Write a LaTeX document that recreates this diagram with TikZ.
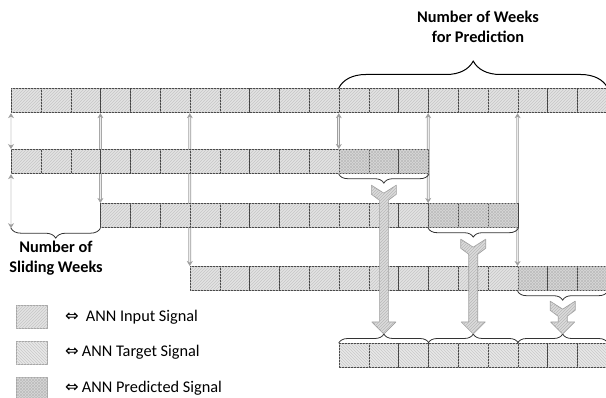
\documentclass[tikz,border=0pt]{standalone}
\usepackage{fontspec}
\setmainfont{Carlito}
\newfontfamily\symfont{DejaVu Sans}
\usetikzlibrary{arrows.meta,patterns,decorations.pathreplacing,calc,backgrounds}

\tikzset{
  week/.style={draw=black!75, line width=0.7pt, minimum width=29.8pt, minimum height=24.5pt, inner sep=0pt, anchor=north west},
  inwk/.style={week, fill=gray!22, postaction={pattern=north east lines, pattern color=gray!45}},
  tgwk/.style={week, fill=gray!18, postaction={pattern=north west lines, pattern color=gray!42}},
  prwk/.style={week, fill=gray!30, postaction={pattern=north east lines, pattern color=gray!52}, postaction={pattern=north west lines, pattern color=gray!52}},
  slide/.style={draw=gray!75, line width=0.7pt, double=gray!15, double distance=1.3pt, {Stealth[length=5pt,width=6pt]}-{Stealth[length=5pt,width=6pt]}},
  curly/.style={decorate, decoration={brace, amplitude=#1}, draw=black!80, line width=0.8pt},
  fat/.style={draw=gray!75, line width=0.7pt, fill=gray!28, postaction={pattern=north east lines, pattern color=gray!55}},
  lbl/.style={font=\bfseries\fontsize{16.3}{19.5}\selectfont, align=center, inner sep=0pt},
  leg/.style={font=\fontsize{16.3}{19}\selectfont, anchor=west, inner sep=0pt}
}

\newcommand{\fatarrow}[2]{%
  \draw[fat] ([shift={(-12.5,1)}]#1) -- ([shift={(0,9)}]#1) -- ([shift={(12.5,1)}]#1)
    -- ([shift={(12.5,10)}]#1) -- ([shift={(4.5,16)}]#1) -- ([shift={(4.5,-12)}]#2)
    -- ([shift={(12,-12)}]#2) -- (#2) -- ([shift={(-12,-12)}]#2) -- ([shift={(-4.5,-12)}]#2)
    -- ([shift={(-4.5,16)}]#1) -- ([shift={(-12.5,10)}]#1) -- cycle;}

\begin{document}
\begin{tikzpicture}[line cap=round,line join=round,x=1pt,y=-1pt]
		\useasboundingbox (0,0) rectangle (606,398);
		%ligne 1
		\foreach \i in {1,...,20}
			\node[inwk] (r1-\i) at ({11+(\i-1)*29.8},88) {};
		%lignes 2 a 4
		\foreach \i in {1,...,11} {
			\node[inwk] (r2-\i) at ({11+(\i-1)*29.8},149) {};
			\node[inwk] (r3-\i) at ({100.4+(\i-1)*29.8},203) {};
			\node[inwk] (r4-\i) at ({189.8+(\i-1)*29.8},266) {};
		}
		\foreach \i in {12,13,14} {
			\node[prwk] (r2-\i) at ({11+(\i-1)*29.8},149) {};
			\node[prwk] (r3-\i) at ({100.4+(\i-1)*29.8},203) {};
			\node[prwk] (r4-\i) at ({189.8+(\i-1)*29.8},266) {};
		}
		%ligne 5
		\foreach \i in {1,...,9}
			\node[tgwk] (r5-\i) at ({338.8+(\i-1)*29.8},343) {};
		%fleches de glissement
		\begin{scope}[on background layer]
		\draw[slide] (r1-1.south west) -- (r2-1.north west);
		\draw[slide] (r2-1.south west) -- (r2-1.south west |- r3-1.south);
		\draw[slide] (r1-4.south west) -- (r3-1.north west);
		\draw[slide] (r1-7.south west) -- (r4-1.north west);
		\draw[slide] (r1-12.south west) -- (r2-12.north west);
		\draw[slide] (r1-15.south west) -- (r3-12.north west);
		\draw[slide] (r1-18.south west) -- (r4-12.north west);
		\end{scope}
		%accolades
		\draw[curly=27pt, draw=black, line width=1pt] (r1-12.north west) -- (r1-20.north east);
		\draw[curly=10pt] (r3-1.south west) -- (r2-1.south west |- r3-1.south);
		\draw[curly=9pt] (r2-14.south east) -- (r2-12.south west);
		\draw[curly=9pt] (r3-14.south east) -- (r3-12.south west);
		\draw[curly=9pt] (r4-14.south east) -- (r4-12.south west);
		\draw[curly=9pt] (r5-1.north west) -- (r5-3.north east);
		\draw[curly=9pt] (r5-4.north west) -- (r5-6.north east);
		\draw[curly=9pt] (r5-7.north west) -- (r5-9.north east);
		%pointes des accolades
		\coordinate (b2) at ($(r2-13.south)+(0,10)$);
		\coordinate (b3) at ($(r3-13.south)+(0,10)$);
		\coordinate (b4) at ($(r4-13.south)+(0,9)$);
		\coordinate (t1) at ($(r5-2.north)+(0,-9)$);
		\coordinate (t2) at ($(r5-5.north)+(0,-9)$);
		\coordinate (t3) at ($(r5-8.north)+(0,-9)$);
		%grosses fleches
		\fatarrow{b2}{t1}
		\fatarrow{b3}{t2}
		\fatarrow{b4}{t3}
		%textes
		\node[lbl] (wkpred) at (478,27) {Number of Weeks\\for Prediction};
		\node[lbl] (wkslide) at (56,258) {Number of\\Sliding Weeks};
		%legende
		\node[inwk, draw=gray!70, minimum width=31pt, minimum height=23pt] (lg-in) at (16,305) {};
		\node[tgwk, draw=gray!70, minimum width=31pt, minimum height=23pt] (lg-tg) at (16,341) {};
		\node[prwk, draw=gray!70, minimum width=31pt, minimum height=23pt] (lg-pr) at (16,377) {};
		\node[leg] (tx-in) at (65,317) {{\symfont ⇔}\hspace{7pt}ANN Input Signal};
		\node[leg] (tx-tg) at (65,352) {{\symfont ⇔}\hspace{3pt}ANN Target Signal};
		\node[leg] (tx-pr) at (65,388) {{\symfont ⇔}\hspace{3pt}ANN Predicted Signal};
\end{tikzpicture}
\end{document}
